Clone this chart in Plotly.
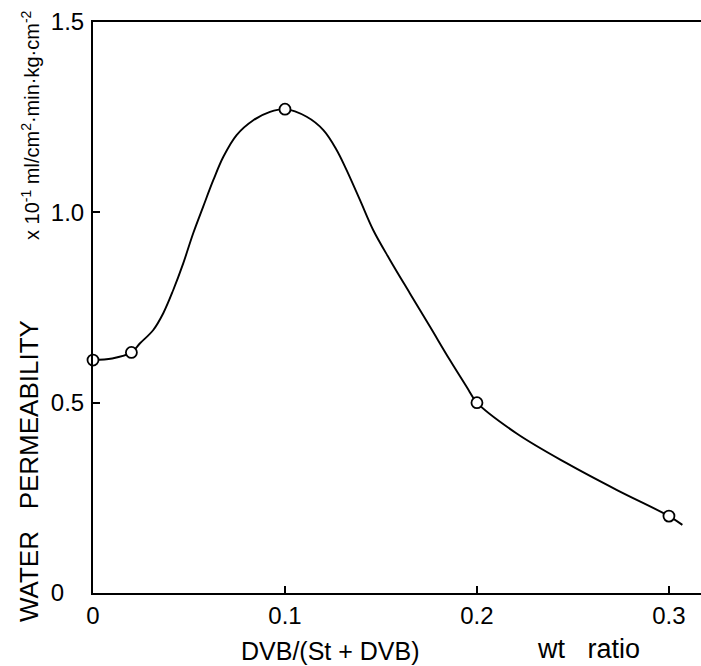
import plotly.graph_objects as go

# measured data points (open circles)
ratio_pts = [0.0, 0.02, 0.1, 0.2, 0.3]
perm_pts = [0.612, 0.632, 1.271, 0.500, 0.202]

# hand-drawn smooth curve
curve_x = [0.0, 0.01, 0.02, 0.0245, 0.0314, 0.0366, 0.0418, 0.0470, 0.0522, 0.0574,
           0.0627, 0.0679, 0.0748, 0.0835, 0.0922, 0.1, 0.1113, 0.12, 0.1269,
           0.1321, 0.1391, 0.146, 0.1547, 0.1651, 0.1755, 0.1859, 0.1946, 0.2,
           0.2207, 0.2467, 0.2727, 0.3, 0.307]
curve_y = [0.612, 0.616, 0.632, 0.656, 0.691, 0.735, 0.796, 0.866, 0.945, 1.015,
           1.085, 1.146, 1.203, 1.242, 1.264, 1.271, 1.251, 1.216, 1.164,
           1.111, 1.032, 0.953, 0.875, 0.787, 0.700, 0.612, 0.542, 0.500,
           0.419, 0.341, 0.271, 0.202, 0.179]

NB = "\u00a0"
x_tick_vals = [0, 0.1, 0.2, 0.3]
x_tick_text = ["0", "0.1", "0.2", "0.3"]
y_tick_vals = [0, 0.5, 1.0, 1.5]
y_tick_text = ["0" + NB * 3, "0.5", "1.0", "1.5"]

x_title = "DVB/(St + DVB)"
x_unit = "wt" + NB * 3 + "ratio"
y_title = "WATER" + NB * 3 + "PERMEABILITY"
y_unit = "x 10<sup>-1</sup> ml/cm<sup>2</sup>·min·kg·cm<sup>-2</sup>"

SANS = "Liberation Sans, Arial, sans-serif"

fig = go.Figure()
fig.add_trace(go.Scatter(
    x=curve_x, y=curve_y, mode="lines",
    line=dict(color="black", width=1.9, shape="spline", smoothing=1.0),
    cliponaxis=False, showlegend=False, hoverinfo="skip"))
fig.add_trace(go.Scatter(
    x=ratio_pts, y=perm_pts, mode="markers",
    marker=dict(symbol="circle", size=11, color="white",
                line=dict(color="black", width=1.8)),
    cliponaxis=False, showlegend=False))

tickfont = dict(family=SANS, size=24, color="black")

fig.update_layout(
    template="none",
    width=701, height=666,
    margin=dict(l=93, r=0, t=22, b=73, pad=0),
    paper_bgcolor="white", plot_bgcolor="white",
    showlegend=False,
    xaxis=dict(range=[0, 0.3167], showgrid=False, zeroline=False,
               showline=True, linecolor="black", linewidth=2, mirror=True,
               ticks="inside", ticklen=7, tickwidth=2, tickcolor="black",
               tickvals=x_tick_vals, ticktext=x_tick_text,
               tickfont=tickfont, automargin=False),
    yaxis=dict(range=[0, 1.5], showgrid=False, zeroline=False,
               showline=True, linecolor="black", linewidth=2, mirror=False,
               ticks="inside", ticklen=7, tickwidth=2, tickcolor="black",
               tickvals=y_tick_vals, ticktext=y_tick_text, ticklabelstandoff=2,
               tickfont=tickfont, automargin=False),
)

# positions below are screen pixels; plot area spans x 93..701, y 22..593
def px(x):
    return (x - 93) / 608

def py(y):
    return (593 - y) / 571

fig.add_annotation(text=x_title, xref="paper", yref="paper",
                   x=px(330), y=py(651),
                   xanchor="center", yanchor="middle", showarrow=False,
                   font=dict(family=SANS, size=25, color="black"))
fig.add_annotation(text=x_unit, xref="paper", yref="paper",
                   x=px(588), y=py(649),
                   xanchor="center", yanchor="middle", showarrow=False,
                   font=dict(family=SANS, size=27, color="black"))
fig.add_annotation(text=y_title, xref="paper", yref="paper",
                   x=px(29), y=py(471), textangle=-90,
                   xanchor="center", yanchor="middle", showarrow=False,
                   font=dict(family=SANS, size=26, color="black"))
fig.add_annotation(text=y_unit, xref="paper", yref="paper",
                   x=px(31), y=py(125), textangle=-90,
                   xanchor="center", yanchor="middle", showarrow=False,
                   font=dict(family=SANS, size=20, color="black"))

fig.write_html(
    "out.html",
    config={"displayModeBar": False, "staticPlot": True},
    post_script="document.body.style.margin='0';document.body.style.overflow='hidden';",
)
